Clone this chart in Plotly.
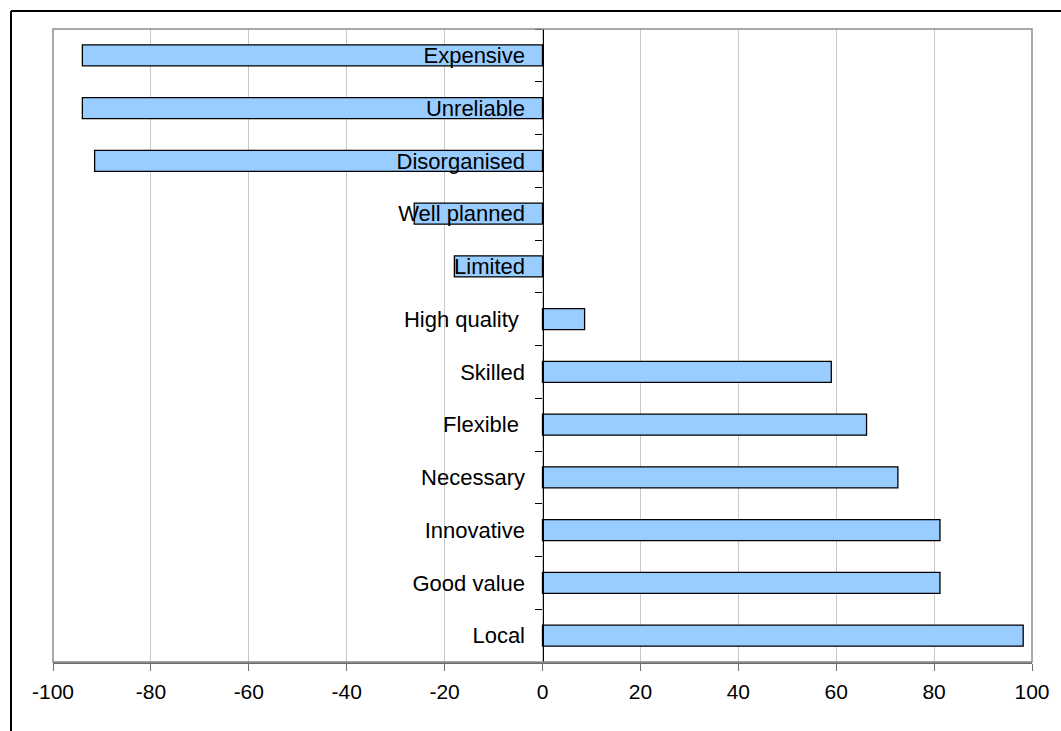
import plotly.graph_objects as go

categories = ["Expensive", "Unreliable", "Disorganised", "Well planned", "Limited",
              "High quality\u00a0", "Skilled", "Flexible\u00a0", "Necessary",
              "Innovative", "Good value", "Local"]
values = [-94.0, -94.0, -91.5, -26.2, -18.0, 8.6, 59.0, 66.2, 72.6, 81.2, 81.2, 98.2]
x_ticks = [-100, -80, -60, -40, -20, 0, 20, 40, 60, 80, 100]

FONT = "Liberation Sans, Arial, sans-serif"

fig = go.Figure()
fig.add_trace(go.Bar(
    y=categories, x=values, orientation="h", width=0.4,
    marker=dict(color="#99CCFF", line=dict(color="#000000", width=1.3)),
    showlegend=False, hoverinfo="x+y",
))

W, H = 1061, 731
L, R, T, B = 53, 29, 29, 69
pw, ph = W - L - R, H - T - B

fig.update_layout(
    width=W, height=H,
    margin=dict(l=L, r=R, t=T, b=B, pad=0),
    paper_bgcolor="white", plot_bgcolor="white",
    font=dict(family=FONT, color="black"),
    bargap=0.6,
    xaxis=dict(
        range=[-100, 100], tickvals=x_ticks, ticktext=[str(v) for v in x_ticks],
        showgrid=True, gridcolor="#c8c8c8", gridwidth=1,
        zeroline=False, showline=True, linecolor="#6e6e6e", linewidth=1.5,
        ticks="outside", ticklen=7, tickcolor="#6e6e6e", tickwidth=1.2,
        ticklabelstandoff=3,
        tickfont=dict(size=21, family=FONT, color="black"),
        fixedrange=True,
    ),
    yaxis=dict(
        categoryorder="array", categoryarray=categories, autorange="reversed",
        anchor="free", position=0.5, side="left",
        showline=True, linecolor="black", linewidth=1.2,
        ticks="outside", ticklen=7, tickcolor="black", tickwidth=1.2,
        tickson="boundaries", ticklabelstandoff=13,
        showgrid=False, zeroline=False,
        tickfont=dict(size=22, family=FONT, color="black"),
        fixedrange=True,
    ),
    shapes=[
        dict(type="rect", xref="x domain", yref="y domain", x0=0, x1=1, y0=0, y1=1,
             line=dict(color="#8c8c8c", width=1.5), layer="above"),
        dict(type="line", xref="paper", yref="paper",
             x0=(11 - L) / pw, x1=(11 - L) / pw, y0=(H - B - 11) / ph, y1=-0.2,
             line=dict(color="black", width=2)),
        dict(type="line", xref="paper", yref="paper",
             x0=(11 - L) / pw, x1=1.1, y0=(H - B - 11) / ph, y1=(H - B - 11) / ph,
             line=dict(color="black", width=2)),
    ],
)

fig.write_html("out.html")
